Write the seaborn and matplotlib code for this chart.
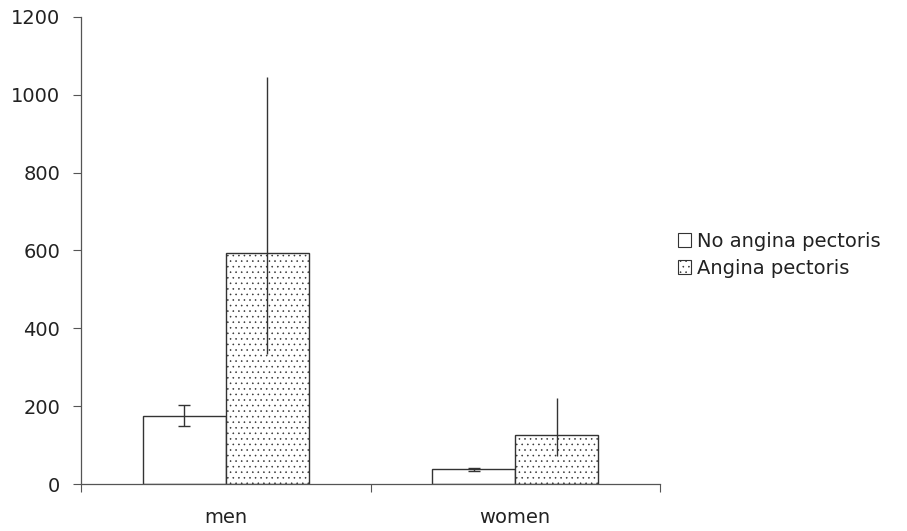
import matplotlib
matplotlib.use("Agg")
import matplotlib.pyplot as plt
from matplotlib.patches import Patch
import seaborn as sns
import pandas as pd
import numpy as np

sns.set_style("white")
plt.rcParams["font.family"] = ["DejaVu Sans"]
plt.rcParams["hatch.linewidth"] = 0.4
plt.rcParams["hatch.color"] = "#b5b5b5"

# Data
sexes = ["men", "women"]
groups = ["No angina pectoris", "Angina pectoris"]
no_angina = [175, 38]
no_angina_lo = [149, 34]
no_angina_hi = [204, 42]
angina = [593, 126]
angina_lo = [335, 71]
angina_hi = [1045, 221]

df = pd.DataFrame({
    "sex": sexes * 2,
    "group": [groups[0]] * 2 + [groups[1]] * 2,
    "value": no_angina + angina,
})

FS = 14

fig = plt.figure(figsize=(9.07, 5.31), dpi=100)
ax = fig.add_axes([81 / 907, 1 - 484 / 531, (660 - 81) / 907, (484 - 17) / 531])

sns.barplot(data=df, x="sex", y="value", hue="group", order=sexes,
            hue_order=groups, palette=["white", "white"], width=0.573,
            edgecolor="#333333", linewidth=1.0, errorbar=None,
            legend=False, ax=ax)

# Stipple fill for the angina bars
for bar in ax.containers[1]:
    bar.set_hatch("...")
    bar.set_edgecolor("#333333")

# Asymmetric error bars
series = [(no_angina, no_angina_lo, no_angina_hi, 4),
          (angina, angina_lo, angina_hi, 0)]
for cont, (vals, lo, hi, cap) in zip(ax.containers, series):
    xs = [b.get_x() + b.get_width() / 2 for b in cont]
    vals = np.array(vals)
    yerr = [vals - np.array(lo), np.array(hi) - vals]
    ax.errorbar(xs, vals, yerr=yerr, fmt="none", ecolor="#333333",
                elinewidth=1.0, capsize=cap, capthick=1.0, zorder=5)

ax.set_xlim(-0.5, 1.5)
ax.set_ylim(0, 1200)
ax.set_yticks(range(0, 1201, 200))
ax.set_xlabel("")
ax.set_ylabel("")

# Category boundary ticks on x, labels centred without marks
ax.set_xticks([-0.5, 0.5, 1.5], minor=True)
ax.set_xticks([0, 1])
ax.set_xticklabels(sexes)
ax.tick_params(axis="x", which="major", length=0, pad=17, labelsize=FS,
               labelcolor="#222222")
ax.tick_params(axis="x", which="minor", length=6, width=0.8, color="#555555",
               direction="out", bottom=True)
ax.tick_params(axis="y", length=6, width=0.8, color="#555555", direction="out",
               left=True, pad=9, labelsize=FS, labelcolor="#222222")

for side in ["top", "right"]:
    ax.spines[side].set_visible(False)
for side in ["left", "bottom"]:
    ax.spines[side].set_color("#555555")
    ax.spines[side].set_linewidth(0.9)

handles = [
    Patch(facecolor="white", edgecolor="#333333", linewidth=0.8),
    Patch(facecolor="white", edgecolor="#333333", linewidth=0.8, hatch="..."),
]
fig.legend(handles, groups, loc="upper left",
           bbox_to_anchor=(670 / 907, 1 - 224 / 531), frameon=False,
           fontsize=FS, handlelength=0.7, handleheight=0.7,
           handletextpad=0.3, labelspacing=0.4, borderaxespad=0,
           labelcolor="#222222")

fig.savefig("out.png", dpi=100)
